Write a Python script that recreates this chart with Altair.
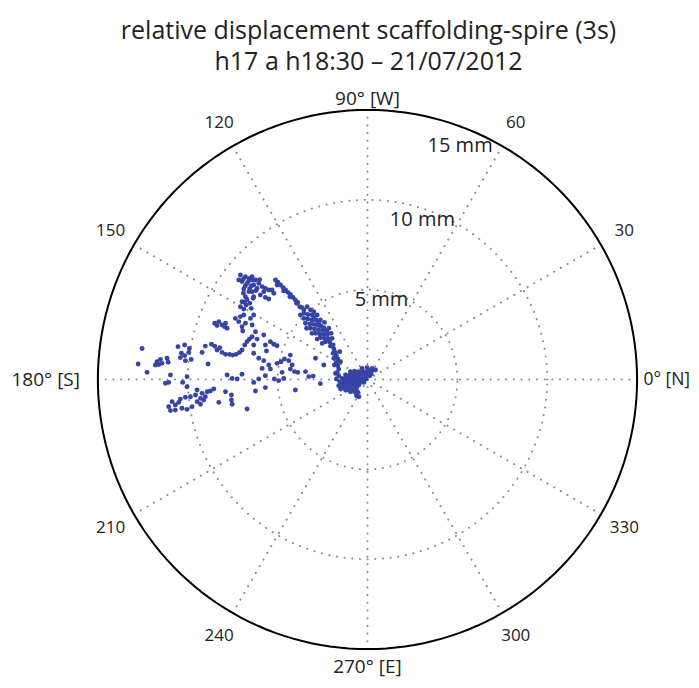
import altair as alt
import numpy as np
import pandas as pd

# ---------------- data (mm) ----------------
# displacement components: north (0 deg axis) and west (90 deg axis)
far_north = [-12.54, -12.76, -12.26, -11.80, -11.71, -11.52, -11.61, -11.43, -11.15, -11.09,
             -11.24, -11.06, -10.96, -10.54, -10.17, -9.91, -10.35, -10.17, -9.94, -9.81,
             -10.13, -10.41, -10.28, -10.04, -10.04, -9.20, -9.02, -8.87, -8.68, -8.50,
             -8.37, -8.22, -8.09, -7.90, -7.68, -7.50, -7.31, -7.12, -6.98, -6.83,
             -6.70, -6.57, -6.42, -6.33, -8.50, -8.27, -8.09, -7.94, -7.81, -8.37,
             -7.90, -7.35, -7.07, -6.88, -7.16, -6.98, -6.79, -6.51, -6.42, -6.94,
             -9.48, -9.20, -8.92, -8.74, -8.55, -9.02, -9.29, -9.57, -9.85, -10.13,
             -10.41, -10.50, -10.69, -10.87, -11.06, -10.96, -10.32, -10.04, -9.76, -9.48,
             -9.11, -9.29, -8.27, -7.90, -7.57, -7.57, -7.53, -6.70, -7.81, -7.53,
             -7.25, -6.98, -10.69]
far_west = [1.73, 0.86, 0.40, 0.81, 0.99, 1.12, 0.84, 0.90, 1.18, 0.96,
            -0.21, -0.16, 0.25, 1.83, 1.92, 1.73, 1.46, 1.33, 1.51, 1.12,
            1.05, 1.22, -0.16, 0.16, -0.40, 1.51, 1.86, 0.86, 1.96, 1.86,
            1.64, 1.77, 1.51, 1.40, 1.40, 1.36, 1.40, 1.51, 1.64, 1.92,
            2.11, 2.25, 2.38, 1.92, 3.13, 3.22, 3.03, 2.94, 2.85, 3.00,
            3.13, 3.40, 3.50, 3.59, 3.22, 2.94, 3.13, 3.40, 3.03, 2.70,
            -0.58, -0.77, -0.68, -0.64, -0.53, -0.96, -1.05, -0.86, -0.96, -0.99,
            -1.09, -1.27, -1.42, -1.23, -1.51, -1.73, -1.60, -1.66, -1.51, -1.23,
            -1.14, -1.38, -1.27, -0.68, -0.86, -1.14, -1.38, -1.64, 0.25, 0.06,
            0.03, 0.29, -1.70]

lobe_north = [-7.07, -6.79, -6.57, -6.38, -6.98, -6.70, -6.46, -6.88, -6.60, -6.79,
              -6.98, -6.75, -7.07, -6.88, -6.33, -7.16, -6.42, -6.23, -6.05, -6.33,
              -6.14, -5.86, -5.68, -5.77, -5.49, -5.31, -5.21, -5.96, -5.68, -5.49,
              -6.42, -6.36, -6.47, -6.90, -6.60, -6.80, -6.55, -6.90, -6.70, -6.85,
              -6.20, -6.00, -6.55]
lobe_west = [5.82, 5.72, 5.63, 5.54, 5.45, 5.35, 5.22, 5.04, 4.89, 4.61,
             4.33, 4.15, 4.05, 3.92, 4.61, 5.54, 5.72, 5.54, 5.35, 5.26,
             5.07, 5.17, 5.07, 4.89, 4.98, 4.98, 4.80, 4.70, 4.57, 4.48,
             4.89, 4.52, 3.96, 5.60, 5.50, 5.20, 5.05, 4.80, 4.45, 4.30,
             4.95, 5.55, 4.25]

arc_north = [-5.12, -4.99, -4.84, -4.69, -4.56, -4.43, -4.29, -4.14, -4.01, -3.88,
             -3.77, -3.64, -3.36, -3.17, -3.54, -3.32, -3.08, -3.54, -3.32, -3.08,
             -2.86, -3.45, -3.21, -2.99, -2.80, -2.61, -3.17, -2.95, -2.73, -2.50,
             -2.28, -2.89, -2.67, -2.45, -2.23, -2.62, -2.40, -2.17, -2.34, -2.10,
             -2.06, -1.91, -3.54, -3.73,
             -2.80, -2.62, -2.39, -2.15, -2.02, -1.97, -3.39, -3.08, -2.80, -2.52,
             -2.99, -2.99, -2.71, -2.43, -2.24, -5.03, -4.66, -4.32, -3.95]
arc_west = [5.54, 5.41, 5.26, 5.11, 4.98, 4.85, 4.74, 4.57, 4.42, 4.29,
            4.05, 4.00, 4.05, 3.87, 3.68, 3.62, 3.59, 3.40, 3.37, 3.31,
            3.31, 3.13, 3.09, 3.07, 3.03, 2.99, 2.85, 2.81, 2.77, 2.74,
            2.70, 2.57, 2.53, 2.51, 2.48, 2.33, 2.29, 2.25, 2.10, 2.07,
            1.86, 1.92, 3.87, 3.59,
            3.59, 3.31, 3.18, 2.85, 2.57, 2.29, 2.85, 2.57, 2.25, 2.01,
            3.77, 3.50, 3.18, 2.88, 2.61, 5.26, 4.93, 4.61, 4.24]

stem_north = [-1.87, -1.78, -1.73, -1.65, -1.73, -1.65, -1.60, -1.69, -1.60, -1.73, -1.54, -1.50,
              -1.91, -1.84, -1.78, -1.87]
stem_west = [1.70, 1.51, 1.33, 1.14, 0.95, 0.77, 0.58, 0.40, 0.21, 0.03, 1.55, 0.99,
             1.46, 0.81, 0.34, 1.18]

core_north = [-0.30, -0.02, 0.26, 0.45,
              -0.95, -0.72, -0.48, -0.24, -0.02, 0.20,
              -1.22, -0.98, -0.76, -0.54, -0.32, -0.09, 0.13,
              -1.41, -1.19, -0.96, -0.74, -0.52, -0.30, -0.07,
              -1.54, -1.32, -1.09, -0.87, -0.65, -0.43, -0.20,
              -1.60, -1.37, -1.15, -0.93, -0.71, -0.48,
              -1.50, -1.28, -1.06, -0.83, -0.61,
              -0.95, -0.72, -0.54,
              -0.61, -0.48,
              -1.10, -0.85, -0.60, -0.40, -0.20,
              -1.30, -1.00, -0.75, -0.50, -0.25,
              -1.45, -1.20, -0.95, -0.70, -0.45,
              -1.35, -1.10, -0.85, -0.60,
              -1.20, -0.85, -0.60,
              -0.85, -0.60, -0.35, -0.10,
              0.10, 0.35, 0.20]
core_west = [0.62, 0.66, 0.62, 0.53,
             0.44, 0.47, 0.44, 0.44, 0.44, 0.40,
             0.25, 0.25, 0.25, 0.25, 0.25, 0.25, 0.21,
             0.06, 0.06, 0.06, 0.06, 0.06, 0.06, 0.03,
             -0.12, -0.12, -0.12, -0.12, -0.12, -0.12, -0.16,
             -0.34, -0.31, -0.31, -0.31, -0.31, -0.31,
             -0.53, -0.49, -0.49, -0.49, -0.49,
             -0.68, -0.68, -0.71,
             -0.90, -0.96,
             0.15, 0.15, 0.15, 0.15, 0.15,
             -0.02, -0.02, -0.02, -0.02, -0.02,
             -0.22, -0.22, -0.22, -0.22, -0.22,
             -0.40, -0.40, -0.40, -0.40,
             -0.60, -0.60, -0.80,
             0.35, 0.35, 0.35, 0.35,
             0.50, 0.55, 0.30]

mid_north = [-6.33, -6.23, -6.14, -5.77, -5.68, -5.21, -5.03, -6.33, -6.05, -5.77,
             -5.49, -5.86, -5.40, -5.03, -4.81, -4.62, -4.38, -4.19, -4.29, -4.06,
             -3.88, -4.75, -4.66, -5.18, -4.94, -5.68, -6.05, -6.33, -6.23, -5.68,
             -4.01, -3.45, -3.27, -3.02, -2.62, -2.89, -2.43, -4.29, -5.40, -5.62]
mid_west = [3.59, 2.66, 2.25, 2.48, 1.92, 1.96, 1.88, 1.46, 1.18, 1.05,
            0.81, 0.62, 0.58, 0.90, 0.99, 1.14, 1.05, 0.81, 0.58, 0.44,
            0.40, 0.40, 0.06, 0.03, -0.06, 0.21, 0.03, -0.16, -0.64, -0.45,
            -0.58, 0.44, 0.16, 0.19, -0.23, 1.18, 0.81, 1.36, 2.10, 1.59]

ring_radii = [5, 10]
outer_radius = 15
spoke_angles = [0, 30, 60, 90, 120, 150]

angle_label_text = ["0° [N]", "30", "60", "90° [W]", "120", "150",
                    "180° [S]", "210", "240", "270° [E]", "300", "330"]
angle_label_deg = [0, 30, 60, 90, 120, 150, 180, 210, 240, 270, 300, 330]
angle_label_r = [17.95, 16.5, 16.5, 15.6, 16.5, 16.5, 17.9, 16.5, 16.5, 16.0, 16.5, 16.5]
angle_label_kind = ["edge", "num", "num", "card", "num", "num",
                    "card", "num", "num", "card", "num", "num"]

ring_label_text = ["5 mm", "10 mm", "15 mm"]
ring_label_deg = [80.0, 71.0, 68.4]
ring_label_r = [4.49, 9.39, 14.0]

title_lines = ["relative displacement scaffolding-spire (3s)", "h17 a  h18:30 \u2013 21/07/2012"]

# ---------------- tables ----------------
pts = pd.DataFrame({
    "north": far_north + lobe_north + arc_north + stem_north + core_north + mid_north,
    "west": far_west + lobe_west + arc_west + stem_west + core_west + mid_west,
})

deg = np.arange(0, 361, 2)
rings = pd.DataFrame([(r, a, r * np.cos(np.radians(a)), r * np.sin(np.radians(a)))
                      for r in ring_radii for a in deg], columns=["ring", "deg", "x", "y"])
outer = pd.DataFrame({"deg": deg,
                      "x": outer_radius * np.cos(np.radians(deg)),
                      "y": outer_radius * np.sin(np.radians(deg))})
sp = np.radians(spoke_angles)
spokes = pd.DataFrame({"x": outer_radius * np.cos(sp), "y": outer_radius * np.sin(sp),
                       "x2": -outer_radius * np.cos(sp), "y2": -outer_radius * np.sin(sp)})
al = np.radians(angle_label_deg)
alabels = pd.DataFrame({"t": angle_label_text,
                        "kind": angle_label_kind,
                        "x": np.array(angle_label_r) * np.cos(al),
                        "y": np.array(angle_label_r) * np.sin(al)})
rl = np.radians(ring_label_deg)
rlabels = pd.DataFrame({"t": ring_label_text,
                        "x": np.array(ring_label_r) * np.cos(rl),
                        "y": np.array(ring_label_r) * np.sin(rl)})

xs = alt.Scale(domain=[-20, 18], nice=False, zero=False)
ys = alt.Scale(domain=[-16.72, 16.5], nice=False, zero=False)
X = lambda f: alt.X(f, type="quantitative", scale=xs, axis=None)
Y = lambda f: alt.Y(f, type="quantitative", scale=ys, axis=None)

FONT = "Open Sans"
GRID = "#8a8a8a"
INK = "#222222"

spoke_layer = alt.Chart(spokes).mark_rule(
    color=GRID, strokeWidth=2, strokeDash=[0.1, 7.6], strokeCap="round"
).encode(x=X("x"), y=Y("y"), x2="x2:Q", y2="y2:Q")

ring_layer = alt.Chart(rings).mark_line(
    color=GRID, strokeWidth=2, strokeDash=[0.1, 7.6], strokeCap="round"
).encode(x=X("x"), y=Y("y"), detail="ring:N", order="deg:Q")

outer_layer = alt.Chart(outer).mark_line(color="black", strokeWidth=2).encode(
    x=X("x"), y=Y("y"), order="deg:Q")

point_layer = alt.Chart(pts).mark_circle(size=24, color="#3644a6", opacity=1).encode(
    x=X("north"), y=Y("west"))

num_label_layer = alt.Chart(alabels).transform_filter("datum.kind == 'num'").mark_text(
    font=FONT, fontSize=17, color=INK, align="center", baseline="middle"
).encode(x=X("x"), y=Y("y"), text="t:N")

card_label_layer = alt.Chart(alabels).transform_filter("datum.kind == 'card'").mark_text(
    font=FONT, fontSize=19, color=INK, align="center", baseline="middle"
).encode(x=X("x"), y=Y("y"), text="t:N")

edge_label_layer = alt.Chart(alabels).transform_filter("datum.kind == 'edge'").mark_text(
    font=FONT, fontSize=17.5, color=INK, align="right", baseline="middle"
).encode(x=X("x"), y=Y("y"), text="t:N")

rlabel_layer = alt.Chart(rlabels).mark_text(
    font=FONT, fontSize=20, color=INK, align="center", baseline="middle"
).encode(x=X("x"), y=Y("y"), text="t:N")

chart = alt.layer(
    spoke_layer, ring_layer, outer_layer, point_layer,
    num_label_layer, card_label_layer, edge_label_layer, rlabel_layer
).properties(
    width=683, height=597,
    autosize=alt.AutoSizeParams(type="none"),
    padding={"left": 0, "top": 75, "right": 0, "bottom": 0},
    title=alt.TitleParams(text=title_lines, font=FONT, fontSize=25, fontWeight="normal",
                          color=INK, anchor="middle", dx=19, offset=8, lineHeight=31),
).configure_view(stroke=None)

chart.save("out.html", embed_options={"renderer": "svg", "actions": False})
